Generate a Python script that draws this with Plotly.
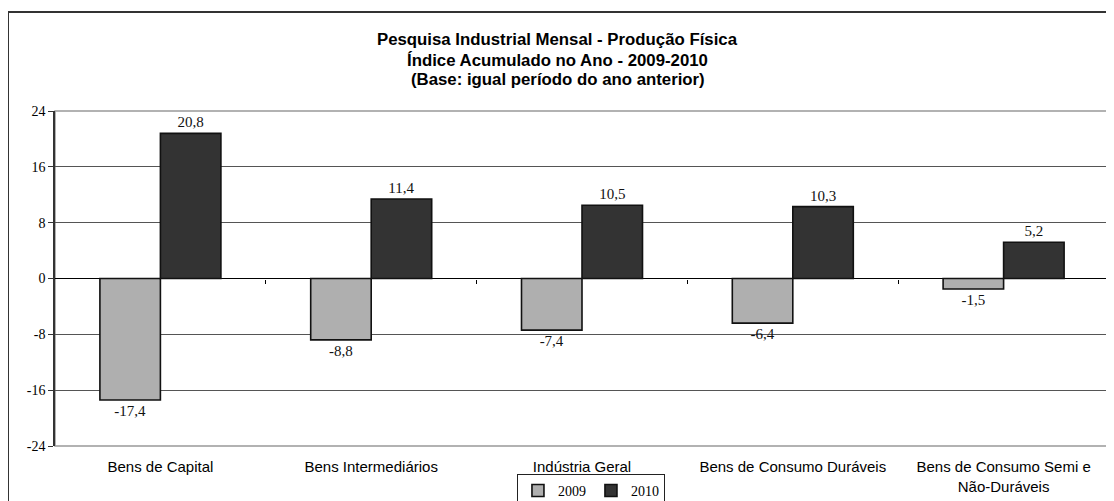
import plotly.graph_objects as go

categories = ["Bens de Capital", "Bens Intermediários", "Indústria Geral",
              "Bens de Consumo Duráveis", "Bens de Consumo Semi e<br>Não-Duráveis"]
series_names = ["2009", "2010"]
values_2009 = [-17.4, -8.8, -7.4, -6.4, -1.5]
values_2010 = [20.8, 11.4, 10.5, 10.3, 5.2]
y_ticks = [-24, -16, -8, 0, 8, 16, 24]
title_lines = ["Pesquisa Industrial Mensal - Produção Física",
               "Índice Acumulado no Ano - 2009-2010",
               "(Base: igual período do ano anterior)"]

def fmt(v):
    return f"{v:.1f}".replace(".", ",")

SERIF = "Liberation Serif, Times New Roman, serif"
SANS = "Liberation Sans, Arial, sans-serif"

fig = go.Figure()
fig.add_trace(go.Bar(
    x=categories, y=values_2009, name=series_names[0],
    marker=dict(color="#afafaf", line=dict(color="#111", width=1.6)),
    text=[fmt(v) for v in values_2009], textposition="outside",
    textfont=dict(family=SERIF, size=15, color="#111"),
    cliponaxis=False,
))
fig.add_trace(go.Bar(
    x=categories, y=values_2010, name=series_names[1],
    marker=dict(color="#333333", line=dict(color="#111", width=1.6)),
    text=[fmt(v) for v in values_2010], textposition="outside",
    textfont=dict(family=SERIF, size=15, color="#111"),
    cliponaxis=False,
))
# invisible trace to activate xaxis2 (category boundary ticks on the zero line)
fig.add_trace(go.Scatter(x=[0], y=[0], xaxis="x2", mode="markers",
                         marker=dict(opacity=0), showlegend=False, hoverinfo="skip"))

title_y = [1.212, 1.152, 1.0955]
annotations = [
    dict(text=t, xref="paper", yref="paper", x=0.477, y=yy,
         xanchor="center", yanchor="middle", showarrow=False,
         font=dict(family=SANS, size=16.8, color="black", weight="bold"))
    for t, yy in zip(title_lines, title_y)
]

fig.update_layout(
    width=1106, height=493,
    margin=dict(l=47, r=5, t=103, b=55, autoexpand=False),
    paper_bgcolor="white", plot_bgcolor="white",
    barmode="group", bargap=0.426, bargroupgap=0,
    annotations=annotations,
    showlegend=True,
    legend=dict(
        orientation="h", x=0.5085, xref="paper", xanchor="center",
        y=0.055, yref="container", yanchor="top",
        bordercolor="#222", borderwidth=1,
        font=dict(family=SERIF, size=14, color="black"),
        itemwidth=30, tracegroupgap=0,
    ),
    xaxis=dict(
        type="category", showgrid=False, showline=False, ticks="",
        tickfont=dict(family=SANS, size=15, color="black"),
        ticklabelstandoff=10, zeroline=False, automargin=False,
    ),
    xaxis2=dict(
        overlaying="x", anchor="free", position=0.5, range=[-0.5, 4.5],
        tickvals=[0.5, 1.5, 2.5, 3.5], ticks="outside", ticklen=4,
        tickcolor="black", showticklabels=False, showgrid=False,
        showline=False, zeroline=False, fixedrange=True, automargin=False,
    ),
    yaxis=dict(
        range=[-24, 24], tickvals=y_ticks, ticktext=[str(t) for t in y_ticks],
        showgrid=True, gridcolor="#555", gridwidth=1,
        zeroline=True, zerolinecolor="black", zerolinewidth=1,
        showline=True, linecolor="#333", linewidth=1.5,
        ticks="outside", ticklen=5, tickcolor="#333", automargin=False,
        tickfont=dict(family=SERIF, size=14, color="black"),
    ),
    shapes=[
        dict(type="rect", xref="paper", yref="paper", x0=0, x1=1, y0=0, y1=1,
             line=dict(color="#999", width=1.5), layer="below"),
        dict(type="rect", xref="paper", yref="paper",
             x0=-0.0446, x1=1.03, y0=-0.3, y1=1.2955,
             line=dict(color="#333", width=2)),
    ],
)

fig.write_html("out.html")
